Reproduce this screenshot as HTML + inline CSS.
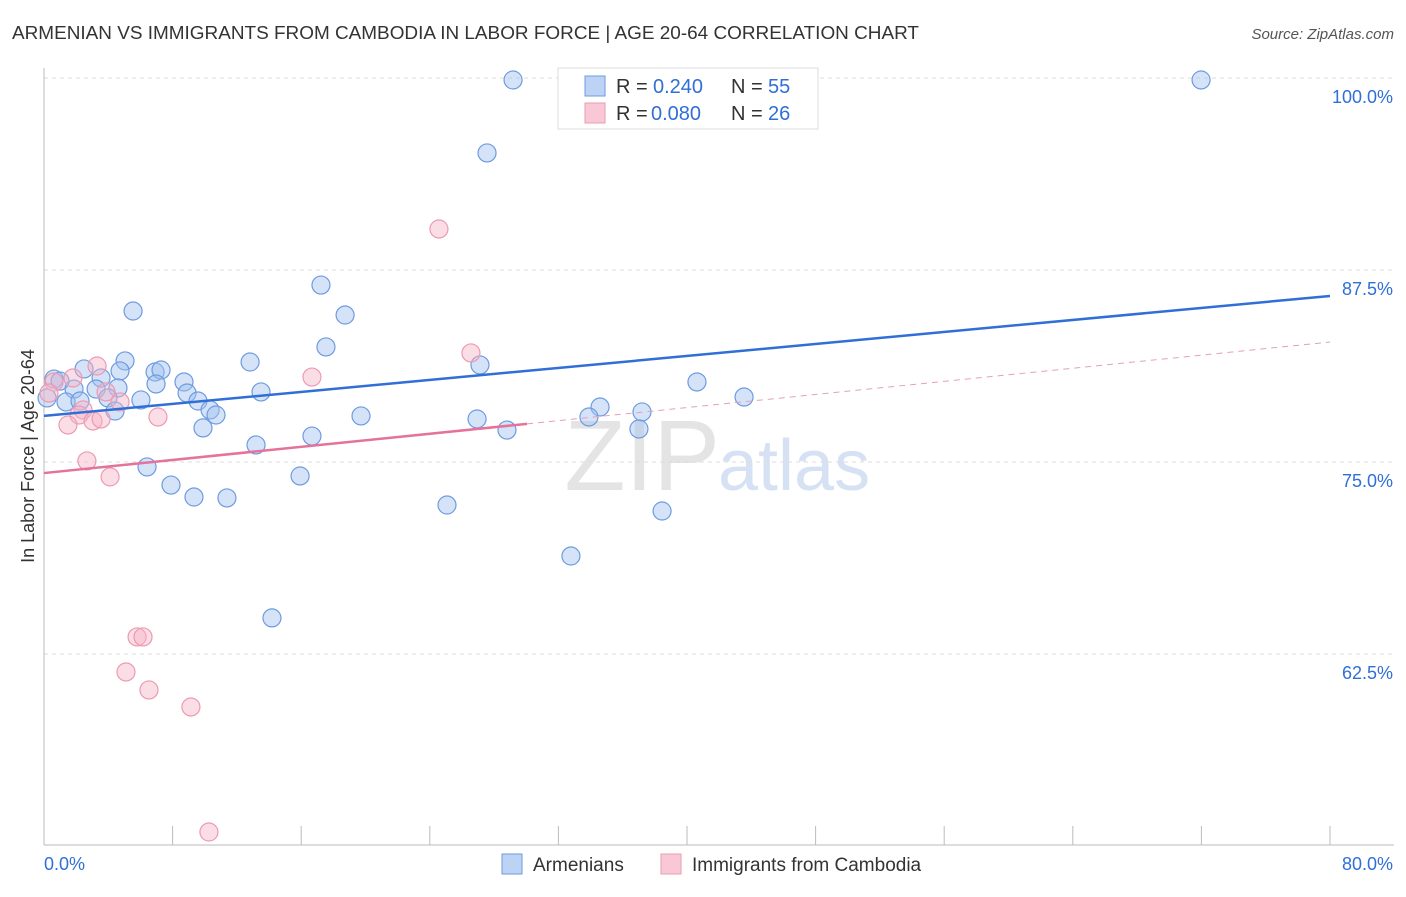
<!DOCTYPE html>
<html><head><meta charset="utf-8"><style>
body{margin:0;background:#fff;font-family:"Liberation Sans",sans-serif;}
svg text{font-family:"Liberation Sans",sans-serif;}
</style></head><body>
<svg id="chart" width="1406" height="892">
<text x="12" y="39" font-size="18" fill="#333" textLength="907" lengthAdjust="spacingAndGlyphs">ARMENIAN VS IMMIGRANTS FROM CAMBODIA IN LABOR FORCE | AGE 20-64 CORRELATION CHART</text>
<text x="1394" y="39" font-size="15" fill="#555" font-style="italic" text-anchor="end">Source: ZipAtlas.com</text>
<text x="720" y="490" font-size="100" fill="#e4e4e4" text-anchor="end" font-family="Liberation Serif">ZIP</text>
<text x="718" y="490" font-size="72" fill="#d6e2f4">atlas</text>
<g id="grid"></g>
<g id="marks"></g>
<text transform="translate(34,456) rotate(-90)" font-size="18" fill="#333" text-anchor="middle">In Labor Force | Age 20-64</text>
<g>
<rect x="558" y="68" width="260" height="61" fill="#fff" stroke="#ddd"/>
<rect x="585" y="76" width="20" height="20" fill="#bcd3f5" stroke="#6e9be0"/>
<rect x="585" y="103" width="20" height="20" fill="#f9c8d6" stroke="#ec9ab2"/>
<text x="616" y="93" font-size="20" fill="#333">R =</text><text x="653" y="93" font-size="20" fill="#2f6fd6">0.240</text>
<text x="731" y="93" font-size="20" fill="#333">N =</text><text x="768" y="93" font-size="20" fill="#2f6fd6">55</text>
<text x="616" y="120" font-size="20" fill="#333">R =</text><text x="651" y="120" font-size="20" fill="#2f6fd6">0.080</text>
<text x="731" y="120" font-size="20" fill="#333">N =</text><text x="768" y="120" font-size="20" fill="#2f6fd6">26</text>
</g>
<rect x="502" y="854" width="20" height="20" fill="#bcd3f5" stroke="#6e9be0"/>
<text x="533" y="871" font-size="19" fill="#333">Armenians</text>
<rect x="661" y="854" width="20" height="20" fill="#f9c8d6" stroke="#ec9ab2"/>
<text x="692" y="871" font-size="19" fill="#333">Immigrants from Cambodia</text>
</svg>
<script>
const yTicks=[100,87.5,75,62.5];
const yTickLabels=["100.0%","87.5%","75.0%","62.5%"];
const xEndLabels=["0.0%","80.0%"];
const armX=[29.18,71.98,27.56,17.23,5.54,18.73,17.54,27.12,5.04,12.82,2.49,4.73,6.91,7.28,0.62,1.00,3.55,6.97,8.71,40.62,4.60,3.24,1.87,13.50,8.90,43.55,0.19,1.37,2.24,6.03,3.98,9.58,34.59,10.33,4.42,10.70,19.72,33.90,37.20,26.94,9.89,28.80,37.01,16.67,13.19,6.41,15.93,7.90,9.33,11.38,25.07,38.45,32.78,14.18];
const armY=[99.87,99.87,95.12,86.52,84.83,84.57,82.49,81.32,81.58,81.51,81.06,80.93,80.86,80.99,80.40,80.27,80.47,80.08,80.21,80.21,79.82,79.75,79.75,79.56,79.49,79.23,79.17,78.91,78.97,79.04,79.17,78.97,78.58,78.39,78.32,78.06,78.00,77.93,78.26,77.80,77.22,77.08,77.15,76.69,76.11,74.68,74.09,73.50,72.72,72.66,72.20,71.81,68.88,64.85];
const camX=[24.57,26.56,16.67,3.30,0.62,1.80,0.31,3.86,2.43,2.18,4.73,7.09,3.05,3.55,1.49,2.67,4.11,5.79,6.16,5.10,6.53,9.14,10.26];
const camY=[90.17,82.10,80.53,81.25,80.21,80.47,79.49,79.56,78.39,78.06,78.91,77.93,77.67,77.80,77.41,75.07,74.03,63.61,63.61,61.33,60.16,59.05,50.91];
const armTrend=[78.00,85.81];
const camTrend=[74.28,82.81];
const camSolidEnd=30.05;
const NS="http://www.w3.org/2000/svg";
const X0=44,X1=1330,Y100=78,PX=192/12.5;
const sx=v=>X0+(v/80)*(X1-X0);
const sy=v=>Y100+(100-v)*PX;
function mk(tag,attrs,parent){const e=document.createElementNS(NS,tag);for(const k in attrs)e.setAttribute(k,attrs[k]);parent.appendChild(e);return e;}
const grid=document.getElementById('grid'),marks=document.getElementById('marks'),svg=document.getElementById('chart');
yTicks.forEach((t,i)=>{
 const l=mk('line',{x1:X0,x2:1394,y1:sy(t),y2:sy(t),stroke:'#ddd','stroke-dasharray':'4,4'},grid);
 
 
 const tx=mk('text',{x:1393,y:sy(t)+25,'font-size':18,fill:'#2f6fd6','text-anchor':'end'},svg);
 tx.textContent=yTickLabels[i];
 
 
});
const ax=mk('line',{x1:X0,x2:X0,y1:68,y2:845,stroke:'#bbb'},grid);


const bx=mk('line',{x1:X0,x2:1394,y1:845,y2:845,stroke:'#bbb'},grid);


for(let i=0;i<=10;i++){const v=i*8;const t=mk('line',{x1:sx(v),x2:sx(v),y1:826,y2:845,stroke:'#bbb'},grid);
 
 }
[[0,'start',X0],[1,'end',1393]].forEach(([i,a,x])=>{const t=mk('text',{x:x,y:870,'font-size':18,fill:'#2f6fd6','text-anchor':a},svg);t.textContent=xEndLabels[i];
 
 });
armX.forEach((x,i)=>{const c=mk('circle',{cx:sx(x),cy:sy(armY[i]),r:9,fill:'rgba(160,193,240,0.45)',stroke:'#6e9be0','stroke-width':1.2},marks);
 
 });
camX.forEach((x,i)=>{const c=mk('circle',{cx:sx(x),cy:sy(camY[i]),r:9,fill:'rgba(246,180,200,0.45)',stroke:'#ec9ab2','stroke-width':1.2},marks);
 
 });
const bl=mk('line',{x1:sx(0),y1:sy(armTrend[0]),x2:sx(80),y2:sy(armTrend[1]),stroke:'#2f6fd6','stroke-width':2.5},marks);


const cy=x=>camTrend[0]+(camTrend[1]-camTrend[0])*x/80;
const pl=mk('line',{x1:sx(0),y1:sy(cy(0)),x2:sx(camSolidEnd),y2:sy(cy(camSolidEnd)),stroke:'#e4729a','stroke-width':2.5},marks);


const pd=mk('line',{x1:sx(camSolidEnd),y1:sy(cy(camSolidEnd)),x2:sx(80),y2:sy(cy(80)),stroke:'#e4a0b8','stroke-width':1,'stroke-dasharray':'6,5'},marks);


</script>
</body></html>
